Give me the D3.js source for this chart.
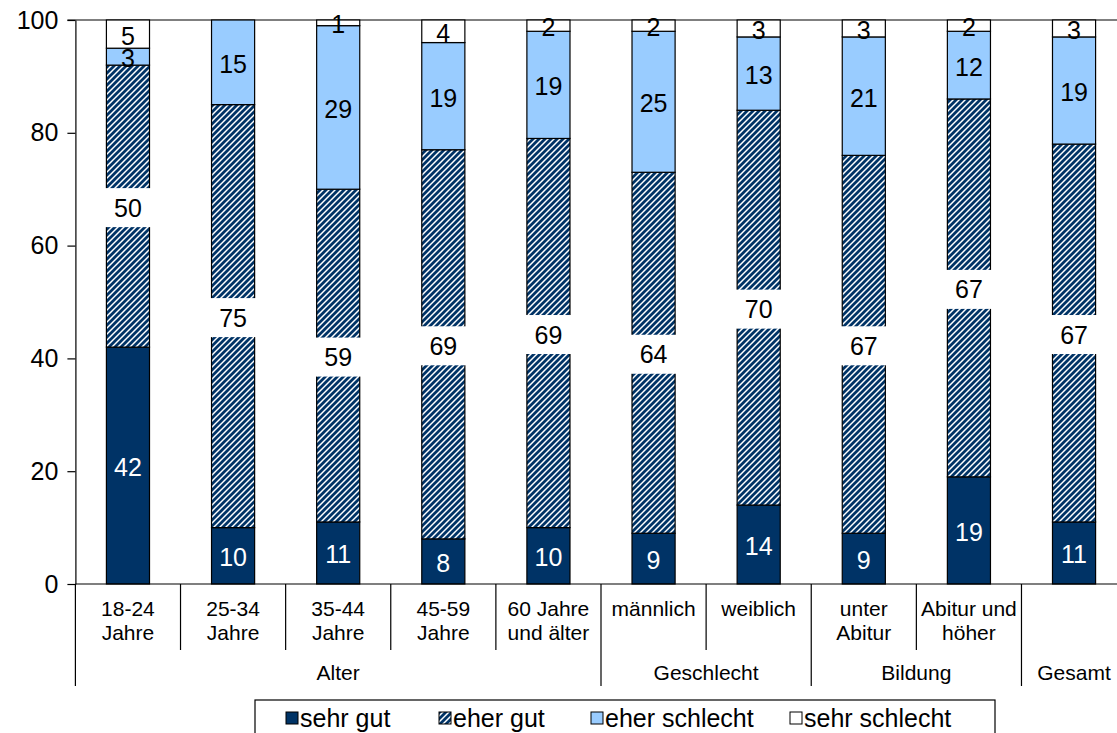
<!DOCTYPE html>
<html>
<head>
<meta charset="utf-8">
<script src="https://cdn.jsdelivr.net/npm/d3@7"></script>
<style>
  html, body { margin: 0; padding: 0; background: #fff; }
  svg { display: block; font-family: "Liberation Sans", Arial, sans-serif; }
</style>
</head>
<body>
<svg id="chart" width="1117" height="733"></svg>
<script>
// ---- data ----
const categories = ["18-24\nJahre", "25-34\nJahre", "35-44\nJahre", "45-59\nJahre", "60 Jahre\nund älter",
                    "männlich", "weiblich", "unter\nAbitur", "Abitur und\nhöher", ""];
const groupNames = ["Alter", "Geschlecht", "Bildung", "Gesamt"];
const groupSizes = [5, 2, 2, 1];
const seriesNames = ["sehr gut", "eher gut", "eher schlecht", "sehr schlecht"];
const sehrGut      = [42, 10, 11, 8, 10, 9, 14, 9, 19, 11];
const eherGut      = [50, 75, 59, 69, 69, 64, 70, 67, 67, 67];
const eherSchlecht = [3, 15, 29, 19, 19, 25, 13, 21, 12, 19];
const sehrSchlecht = [5, 0, 1, 4, 2, 2, 3, 3, 2, 3];
const yTicks = [0, 20, 40, 60, 80, 100];

// ---- layout ----
const svg = d3.select("#chart");
const W = 1117;
const plotLeft = 75.4, plotRight = 1126.6, plotTop = 20, plotBottom = 584;
const navy = "#003366", light = "#99CCFF";

const x = d3.scaleBand().domain(d3.range(categories.length)).range([plotLeft, plotRight]).padding(0);
const y = d3.scaleLinear().domain([0, 100]).range([plotBottom, plotTop]);
const barW = x.bandwidth() * 0.41;

// hatch pattern
const defs = svg.append("defs");
const pat = defs.append("pattern").attr("id", "hatch").attr("patternUnits", "userSpaceOnUse")
  .attr("width", 6).attr("height", 6);
pat.append("rect").attr("width", 6).attr("height", 6).attr("fill", "#fff");
pat.append("path").attr("d", "M-1,7 L7,-1 M-4,4 L4,-4 M2,10 L10,2")
  .attr("stroke", navy).attr("stroke-width", 2.8);

const fills = [navy, "url(#hatch)", light, "#fff"];

// stacked data
const rows = categories.map((c, i) => ({ i, v0: sehrGut[i], v1: eherGut[i], v2: eherSchlecht[i], v3: sehrSchlecht[i] }));
const stack = d3.stack().keys(["v0", "v1", "v2", "v3"])(rows);

// top line at 100
svg.append("line").attr("x1", plotLeft - 8).attr("x2", W).attr("y1", y(100)).attr("y2", y(100))
  .attr("stroke", "#000").attr("stroke-width", 1.2);

// bars
stack.forEach((layer, si) => {
  svg.append("g").selectAll("rect").data(layer.filter(d => d[1] - d[0] > 0)).join("rect")
    .attr("x", d => x(d.data.i) + x.bandwidth() / 2 - barW / 2)
    .attr("width", barW)
    .attr("y", d => y(d[1]))
    .attr("height", d => y(d[0]) - y(d[1]))
    .attr("fill", fills[si])
    .attr("stroke", "#000").attr("stroke-width", 1.2);
});

// labels
const labelSize = 25;
stack.forEach((layer, si) => {
  const g = svg.append("g");
  layer.forEach(d => {
    const v = d[1] - d[0];
    if (v <= 0) return;
    const cx = x(d.data.i) + x.bandwidth() / 2;
    const cy = y((d[0] + d[1]) / 2) + 1.5;
    if (si === 1) {
      g.append("rect").attr("x", cx - barW / 2 - 3).attr("width", barW + 6)
        .attr("y", cy - 19.5).attr("height", 39).attr("fill", "#fff");
    }
    g.append("text").attr("x", cx).attr("y", cy)
      .attr("text-anchor", "middle").attr("dominant-baseline", "central")
      .attr("font-size", labelSize)
      .attr("fill", si === 0 ? "#fff" : "#000")
      .text(v);
  });
});

// y axis
const yAxis = d3.axisLeft(y).tickValues(yTicks).tickSize(8).tickSizeOuter(0).tickPadding(9);
const ya = svg.append("g").attr("transform", `translate(${plotLeft},0)`).call(yAxis);
ya.select(".domain").attr("stroke", "#000").attr("stroke-width", 1.2);
ya.selectAll(".tick line").attr("stroke", "#000").attr("stroke-width", 1.2);
ya.selectAll(".tick text").attr("font-size", 25).attr("font-family", "Liberation Sans, Arial, sans-serif").attr("fill", "#000");

// x axis line
svg.append("line").attr("x1", plotLeft).attr("x2", W).attr("y1", plotBottom).attr("y2", plotBottom)
  .attr("stroke", "#000").attr("stroke-width", 1.2);

// separators
const groupStarts = [];
let acc = 0;
groupSizes.forEach(s => { groupStarts.push(acc); acc += s; });
const boundaries = d3.range(categories.length + 1);
const axisG = svg.append("g");
boundaries.forEach(b => {
  const bx = b < categories.length ? x(b) : plotRight;
  const isGroup = groupStarts.includes(b) || b === categories.length;
  axisG.append("line").attr("x1", bx).attr("x2", bx).attr("y1", plotBottom)
    .attr("y2", isGroup ? 686 : 650).attr("stroke", "#000").attr("stroke-width", 1.2);
});

// category labels
const catSize = 21;
categories.forEach((c, i) => {
  const lines = c.split("\n");
  const t = axisG.append("text").attr("x", x(i) + x.bandwidth() / 2).attr("y", 616)
    .attr("text-anchor", "middle").attr("font-size", catSize).attr("fill", "#000");
  lines.forEach((ln, k) => {
    t.append("tspan").attr("x", x(i) + x.bandwidth() / 2).attr("dy", k === 0 ? 0 : 24).text(ln);
  });
});

// group labels
groupNames.forEach((g, gi) => {
  const s = groupStarts[gi], e = s + groupSizes[gi];
  const x0 = x(s), x1 = e < categories.length ? x(e) : plotRight;
  axisG.append("text").attr("x", (x0 + x1) / 2).attr("y", 680)
    .attr("text-anchor", "middle").attr("font-size", catSize).attr("fill", "#000").text(g);
});

// legend
const leg = svg.append("g");
leg.append("rect").attr("x", 255).attr("y", 700).attr("width", 740).attr("height", 40)
  .attr("fill", "#fff").attr("stroke", "#000").attr("stroke-width", 1.2);
const legX = [286, 439, 591, 790];
seriesNames.forEach((n, i) => {
  leg.append("rect").attr("x", legX[i]).attr("y", 712).attr("width", 12).attr("height", 12)
    .attr("fill", fills[i]).attr("stroke", "#000").attr("stroke-width", 1);
  leg.append("text").attr("x", legX[i] + 14).attr("y", 727).attr("font-size", 25).attr("fill", "#000").text(n);
});
</script>
</body>
</html>
